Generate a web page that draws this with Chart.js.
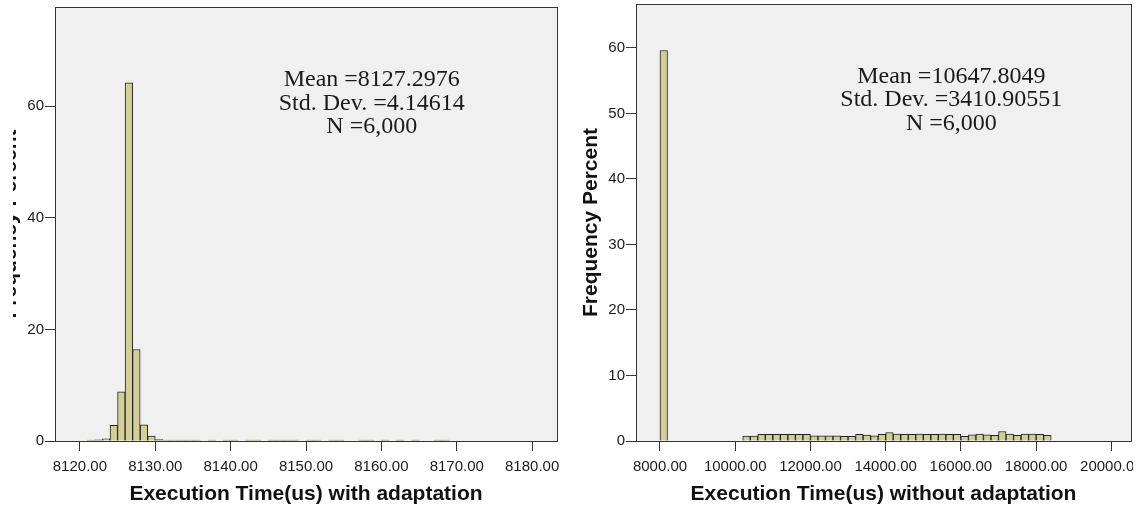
<!DOCTYPE html>
<html>
<head>
<meta charset="utf-8">
<script src="https://cdn.jsdelivr.net/npm/chart.js@4/dist/chart.umd.min.js"></script>
<style>
  html, body { margin: 0; padding: 0; background: #fff; overflow: hidden; }
  body { width: 1137px; height: 508px; position: relative; }
  .crop { position: absolute; top: 0; height: 508px; overflow: hidden; }
  #leftCrop { left: 13px; width: 560px; }
  #rightCrop { left: 560px; width: 573px; }
  canvas { position: absolute; top: 0; }
  #leftChart { left: -25px; }
  #rightChart { left: 0; }
</style>
</head>
<body>
<div class="crop" id="leftCrop"><canvas id="leftChart" width="590" height="508"></canvas></div>
<div class="crop" id="rightCrop"><canvas id="rightChart" width="600" height="508"></canvas></div>
<script>
// with adaptation: 1us bins, lower edge of each bin
const leftBinWidth = 1;
const leftBinStart = [8121, 8122, 8123, 8124, 8125, 8126, 8127, 8128, 8129, 8130, 8131, 8132, 8133, 8134, 8135,
  8137, 8139, 8140, 8142, 8143, 8145, 8146, 8147, 8148, 8150, 8151, 8153, 8154, 8157, 8158, 8160, 8162, 8164, 8167, 8168];
const leftPercent = [0.05, 0.2, 0.4, 2.8, 8.8, 64.2, 16.4, 2.9, 0.9, 0.25, 0.1, 0.1, 0.08, 0.05, 0.05,
  0.03, 0.05, 0.03, 0.05, 0.05, 0.05, 0.05, 0.05, 0.05, 0.1, 0.05, 0.05, 0.03, 0.03, 0.03, 0.03, 0.03, 0.03, 0.03, 0.03];
const leftTicksX = [8120, 8130, 8140, 8150, 8160, 8170, 8180];
const leftTicksY = [0, 20, 40, 60];
const leftStats = ['Mean =8127.2976', 'Std. Dev. =4.14614', 'N =6,000'];

// without adaptation: 200us bins
const rightBinWidth = 200;
const rightBinStart = [8000,
  10200, 10400, 10600, 10800, 11000, 11200, 11400, 11600, 11800,
  12000, 12200, 12400, 12600, 12800, 13000, 13200, 13400, 13600, 13800,
  14000, 14200, 14400, 14600, 14800, 15000, 15200, 15400, 15600, 15800,
  16000, 16200, 16400, 16600, 16800, 17000, 17200, 17400, 17600, 17800,
  18000, 18200];
const rightPercent = [59.6,
  0.75, 0.75, 1.0, 1.0, 1.0, 1.0, 1.0, 1.0, 1.0,
  0.8, 0.8, 0.8, 0.8, 0.7, 0.7, 1.0, 0.9, 0.8, 1.0,
  1.3, 1.05, 1.0, 1.0, 1.05, 1.0, 1.0, 1.05, 1.0, 1.0,
  0.7, 0.95, 1.05, 0.95, 0.85, 1.45, 1.05, 0.85, 1.05, 1.05,
  1.0, 0.85];
const rightTicksX = [8000, 10000, 12000, 14000, 16000, 18000, 20000];
const rightTicksY = [0, 10, 20, 30, 40, 50, 60];
const rightStats = ['Mean =10647.8049', 'Std. Dev. =3410.90551', 'N =6,000'];

Chart.defaults.font.family = '"Liberation Sans", Arial, sans-serif';

// grey plot background, dark frame and the stats text block
const framePlugin = {
  id: 'frame',
  beforeDraw(chart) {
    const a = chart.chartArea, ctx = chart.ctx;
    ctx.save();
    ctx.fillStyle = '#f0f0f0';
    ctx.fillRect(a.left, a.top, a.right - a.left, a.bottom - a.top);
    ctx.restore();
  },
  afterDatasetsDraw(chart, args, o) {
    const a = chart.chartArea, ctx = chart.ctx;
    ctx.save();
    ctx.strokeStyle = '#333';
    ctx.lineWidth = 1;
    ctx.strokeRect(a.left + 0.5, a.top + 0.5, a.right - a.left, a.bottom - a.top);
    ctx.fillStyle = '#1a1a1a';
    ctx.font = '24px "Liberation Serif", "Times New Roman", serif';
    ctx.textAlign = 'center';
    ctx.textBaseline = 'middle';
    const x = a.left + o.cx * (a.right - a.left);
    o.lines.forEach((t, i) => ctx.fillText(t, x, a.top + o.top + i * 23.3));
    ctx.restore();
  }
};

function histogram(id, c) {
  const half = c.binWidth / 2;
  const axisGrid = { drawOnChartArea: false, drawTicks: true, tickLength: 10, color: '#333', lineWidth: 1, offset: false };
  return new Chart(document.getElementById(id), {
    type: 'bar',
    data: {
      datasets: [{
        data: c.starts.map((s, i) => ({ x: s + half, y: c.values[i] })),
        backgroundColor: '#d3ce97',
        borderColor: '#222',
        borderWidth: 1,
        barPercentage: 1,
        categoryPercentage: 1,
        minBarLength: 1
      }]
    },
    options: {
      responsive: false,
      animation: false,
      layout: { padding: { top: c.padTop, right: c.padRight, left: 0, bottom: 0 } },
      plugins: {
        legend: { display: false },
        tooltip: { enabled: false },
        frame: { lines: c.stats, cx: c.statsX, top: c.statsTop }
      },
      scales: {
        x: {
          type: 'linear',
          offset: false,
          min: c.xMin,
          max: c.xMax,
          afterBuildTicks: s => { s.ticks = c.ticksX.map(v => ({ value: v })); },
          afterFit: s => { s.height = 67; s.paddingLeft = 0; s.paddingRight = 0; },
          grid: axisGrid,
          border: { display: false },
          ticks: { callback: v => Number(v).toFixed(2), font: { size: 15 }, color: '#1a1a1a', padding: 7, maxRotation: 0, autoSkip: false },
          title: { display: true, text: c.xTitle, font: { size: 21, weight: 'bold' }, color: '#111', padding: { top: 0, bottom: 1 } }
        },
        y: {
          min: 0,
          max: c.yMax,
          afterBuildTicks: s => { s.ticks = c.ticksY.map(v => ({ value: v })); },
          afterFit: s => { s.width = c.yWidth; s.paddingTop = 0; s.paddingBottom = 0; },
          grid: axisGrid,
          border: { display: false },
          ticks: { font: { size: 15 }, color: '#1a1a1a', padding: 1 },
          title: { display: true, text: 'Frequency Percent', font: { size: 21, weight: 'bold' }, color: '#111', padding: { top: c.yTitlePad, bottom: 0 } }
        }
      }
    },
    plugins: [framePlugin]
  });
}

histogram('leftChart', {
  binWidth: leftBinWidth, starts: leftBinStart, values: leftPercent,
  ticksX: leftTicksX, ticksY: leftTicksY, stats: leftStats,
  xMin: 8116.7, xMax: 8183.3, yMax: 77.8,
  xTitle: 'Execution Time(us) with adaptation',
  padTop: 7, padRight: 21, yWidth: 67, yTitlePad: 10,
  statsX: 0.631, statsTop: 73
});

histogram('rightChart', {
  binWidth: rightBinWidth, starts: rightBinStart, values: rightPercent,
  ticksX: rightTicksX, ticksY: rightTicksY, stats: rightStats,
  xMin: 7362, xMax: 20523, yMax: 66.7,
  xTitle: 'Execution Time(us) without adaptation',
  padTop: 4, padRight: 29, yWidth: 76, yTitlePad: 19,
  statsX: 0.637, statsTop: 72.7
});
</script>
</body>
</html>
